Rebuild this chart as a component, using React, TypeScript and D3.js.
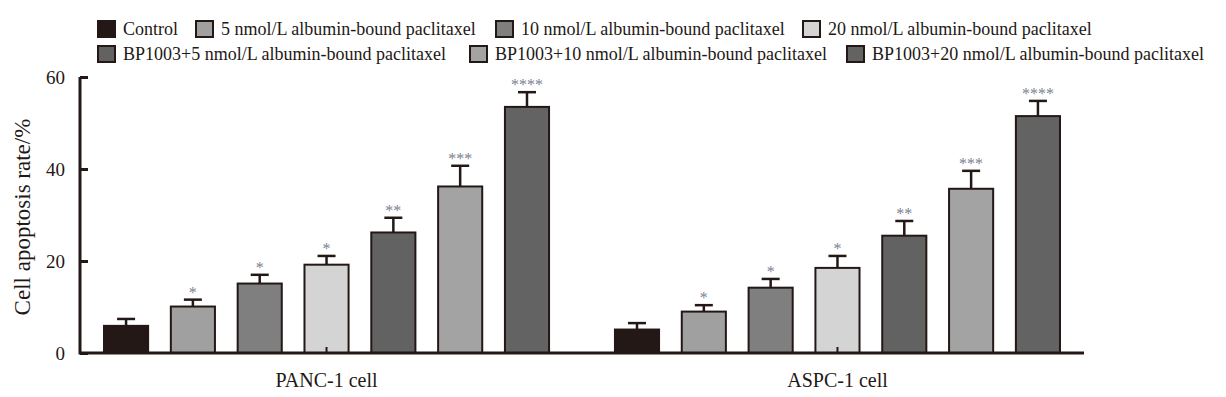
import React, { useEffect, useRef } from 'react';
import { select, scaleBand, scaleLinear, axisLeft } from 'd3';

const groups = ['PANC-1 cell', 'ASPC-1 cell'];
const series = [
  'Control',
  '5 nmol/L albumin-bound paclitaxel',
  '10 nmol/L albumin-bound paclitaxel',
  '20 nmol/L albumin-bound paclitaxel',
  'BP1003+5 nmol/L albumin-bound paclitaxel',
  'BP1003+10 nmol/L albumin-bound paclitaxel',
  'BP1003+20 nmol/L albumin-bound paclitaxel',
];
const colors = ['#231815', '#a0a0a0', '#7f7f7f', '#d4d4d4', '#636262', '#a2a3a2', '#646363'];

const pancValues = [5.9, 10.1, 15.1, 19.2, 26.2, 36.2, 53.5];
const pancErrors = [1.5, 1.5, 1.9, 1.9, 3.2, 4.5, 3.2];
const aspcValues = [5.1, 9.0, 14.2, 18.5, 25.5, 35.7, 51.5];
const aspcErrors = [1.4, 1.4, 1.9, 2.6, 3.2, 3.9, 3.3];
const stars = ['', '*', '*', '*', '**', '***', '****'];
const yTicks = [0, 20, 40, 60];

// legend rows: [series index, marker x]
const legendRow1 = [[0, 98], [1, 196], [2, 496], [3, 803]];
const legendRow2 = [[4, 98], [5, 470], [6, 847]];

const ink = '#231815';
const serif = '"Liberation Serif", "Times New Roman", serif';

const App: React.FC = () => {
  const svgRef = useRef<SVGSVGElement | null>(null);

  useEffect(() => {
    if (!svgRef.current) return;
    document.body.style.margin = '0';
    const svg = select(svgRef.current);
    svg.selectAll('*').remove();

    const values = [pancValues, aspcValues];
    const errors = [pancErrors, aspcErrors];

    const x0 = scaleBand<string>().domain(groups).range([80, 1084]).paddingInner(0.129).paddingOuter(0.047);
    const x1 = scaleBand<string>().domain(series).range([0, x0.bandwidth()]).paddingInner(0.34).paddingOuter(0);
    const y = scaleLinear().domain([0, 60]).range([353, 77]);

    // bars
    groups.forEach((g, gi) => {
      const gx = x0(g) as number;
      const gEl = svg.append('g').attr('transform', `translate(${gx},0)`);
      series.forEach((s, si) => {
        const v = values[gi][si];
        const e = errors[gi][si];
        const bx = x1(s) as number;
        const cx = bx + x1.bandwidth() / 2;
        // error bar
        gEl.append('line')
          .attr('x1', cx).attr('x2', cx)
          .attr('y1', y(v)).attr('y2', y(v + e))
          .attr('stroke', ink).attr('stroke-width', 2.5);
        gEl.append('line')
          .attr('x1', cx - 9).attr('x2', cx + 9)
          .attr('y1', y(v + e)).attr('y2', y(v + e))
          .attr('stroke', ink).attr('stroke-width', 2.5);
        gEl.append('rect')
          .attr('x', bx).attr('y', y(v))
          .attr('width', x1.bandwidth()).attr('height', y(0) - y(v))
          .attr('fill', colors[si])
          .attr('stroke', ink).attr('stroke-width', 2);
        if (stars[si]) {
          gEl.append('text')
            .attr('x', cx).attr('y', y(v + e) - 2)
            .attr('text-anchor', 'middle')
            .attr('font-family', serif).attr('font-size', 16)
            .attr('fill', '#7c8190')
            .text(stars[si]);
        }
      });
      // category tick pointing up
      const mid = gx + x0.bandwidth() / 2;
      svg.append('line')
        .attr('x1', mid).attr('x2', mid)
        .attr('y1', y(0)).attr('y2', y(0) - 6)
        .attr('stroke', ink).attr('stroke-width', 2);
      svg.append('text')
        .attr('x', mid).attr('y', 387)
        .attr('text-anchor', 'middle')
        .attr('font-family', serif).attr('font-size', 20)
        .attr('fill', ink)
        .text(g);
    });

    // x axis line
    svg.append('line')
      .attr('x1', 80).attr('x2', 1084)
      .attr('y1', y(0)).attr('y2', y(0))
      .attr('stroke', ink).attr('stroke-width', 3);

    // y axis
    const yAxis = svg.append('g')
      .attr('transform', 'translate(80,0)')
      .call(axisLeft(y).tickValues(yTicks).tickSize(-8).tickPadding(15));
    yAxis.select('.domain')
      .attr('d', `M0,${y(60)}V${y(0) + 1.5}`)
      .attr('stroke', ink).attr('stroke-width', 3);
    yAxis.selectAll('.tick line').attr('stroke', ink).attr('stroke-width', 3);
    yAxis.selectAll('.tick text')
      .attr('font-family', serif).attr('font-size', 19)
      .attr('fill', ink);

    svg.append('text')
      .attr('transform', `translate(30,217) rotate(-90)`)
      .attr('text-anchor', 'middle')
      .attr('font-family', serif).attr('font-size', 23)
      .attr('fill', ink)
      .text('Cell apoptosis rate/%');

    // legend
    const drawRow = (row: number[][], baseline: number) => {
      row.forEach(([si, lx]) => {
        svg.append('rect')
          .attr('x', lx).attr('y', baseline - 14)
          .attr('width', 17).attr('height', 16)
          .attr('fill', colors[si])
          .attr('stroke', ink).attr('stroke-width', 2);
        svg.append('text')
          .attr('x', lx + 25).attr('y', baseline)
          .attr('font-family', serif).attr('font-size', 18)
          .attr('fill', ink)
          .text(series[si]);
      });
    };
    drawRow(legendRow1, 35);
    drawRow(legendRow2, 60);
  }, []);

  return <svg ref={svgRef} width={1226} height={397} style={{ display: 'block' }}></svg>;
};

export default App;
